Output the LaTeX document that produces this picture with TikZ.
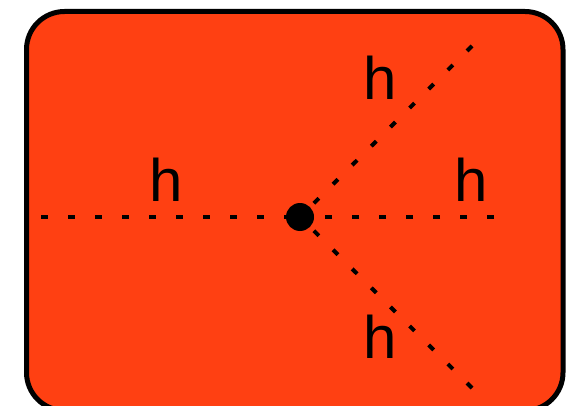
\documentclass[tikz,border=0pt]{standalone}
\usepackage{fontspec}
\setmainfont{Liberation Sans}
\usepackage{xcolor}
\usetikzlibrary{positioning}
\definecolor{vtxbg}{RGB}{255,64,18}

\begin{document}
\begin{tikzpicture}[x=1pt, y=-1pt,
  frame/.style={draw, line width=5pt, fill=vtxbg, rounded corners=38pt},
  higgs/.style={line width=4pt, dash pattern=on 7pt off 20pt},
  vertex/.style={circle, fill=black, inner sep=0pt, minimum size=28pt},
  lab/.style={inner sep=0pt, font=\fontsize{60}{60}\selectfont}]
\useasboundingbox (0,0) rectangle (567,406);
\draw[frame] (26.5,11.5) rectangle (563,410.5);
\node[vertex] (vtx) at (300,217) {};
\coordinate (hleft) at (41,217);
\coordinate (hright) at (494,217);
\coordinate (hup) at (472,46);
\coordinate (hdown) at (472,388);
\draw[higgs] (hleft) -- (vtx.center);
\draw[higgs] (hright) -- (vtx.center);
\draw[higgs] (hup) -- (vtx.center);
\draw[higgs] (hdown) -- (vtx.center);
\node[lab] (lleft) at (166,180) {h};
\node[lab] (lright) at (471,180) {h};
\node[lab] (lup) at (380,78) {h};
\node[lab] (ldown) at (380,337) {h};
\end{tikzpicture}
\end{document}
